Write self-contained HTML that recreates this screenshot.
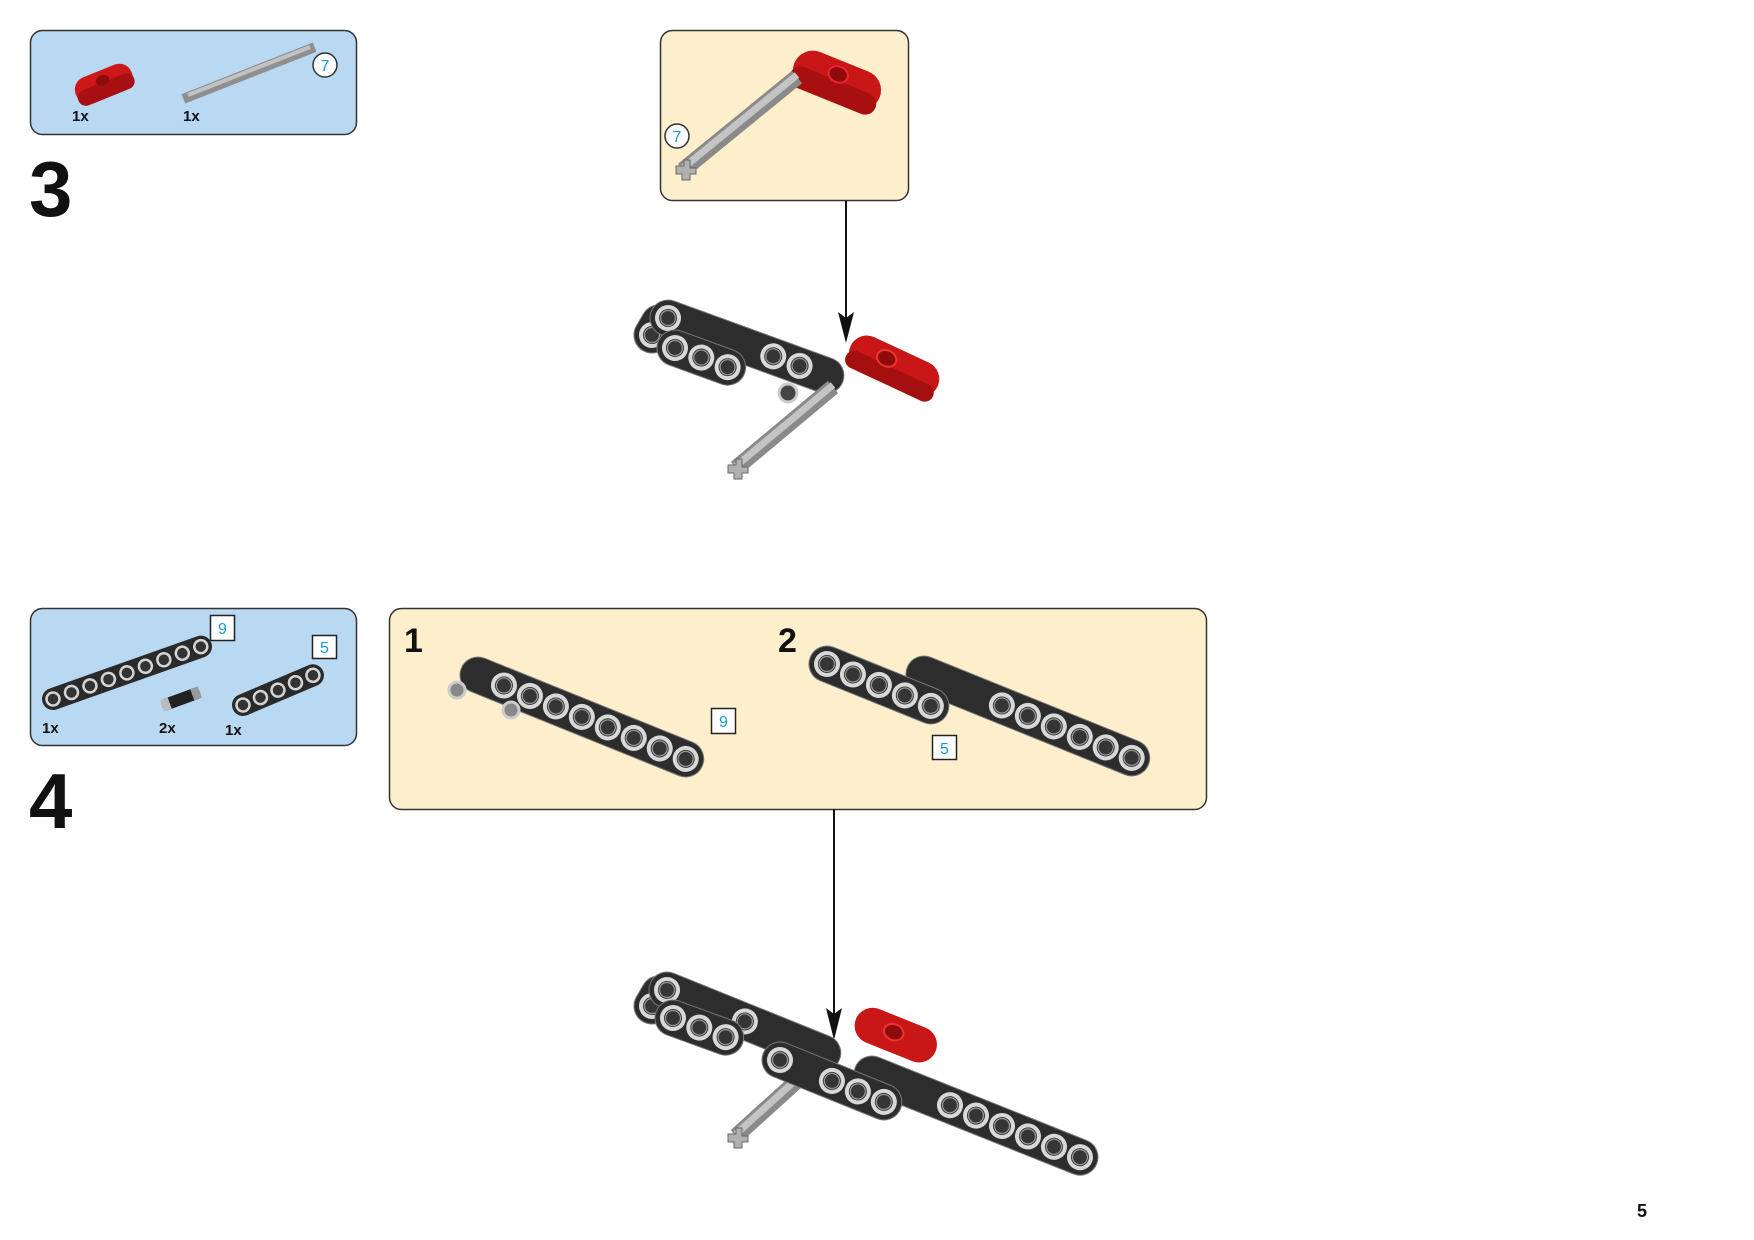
<!DOCTYPE html>
<html><head><meta charset="utf-8"><style>
html,body{margin:0;padding:0;background:#fff;}
body{width:1754px;height:1240px;position:relative;overflow:hidden;font-family:"Liberation Sans",sans-serif;}
</style></head><body>
<svg width="1754" height="1240" viewBox="0 0 1754 1240" xmlns="http://www.w3.org/2000/svg" style="position:absolute;left:0;top:0">
<defs>
<g id="h"><circle r="11" fill="#353535" stroke="#d8d8d8" stroke-width="4"/><circle r="7.5" fill="none" stroke="#9a9a9a" stroke-width="1.2"/></g>
<g id="hs"><circle r="6.5" fill="#333" stroke="#d4d4d4" stroke-width="2.5"/></g>
</defs>
<g font-family="Liberation Sans, sans-serif" font-weight="bold">
<!-- STEP 3 -->
<rect x="30.5" y="30.5" width="326" height="104" rx="12" fill="#b9d8f2" stroke="#333" stroke-width="1.5"/>
<g transform="translate(104,84) rotate(-22)">
 <rect x="-30" y="-14" width="60" height="28" rx="13" fill="#cc1818"/>
 <rect x="-30" y="-2" width="60" height="16" rx="8" fill="#a80f12"/>
 <ellipse cx="0" cy="-4" rx="7" ry="5" fill="#8a0c0c"/>
</g>
<line x1="188" y1="97" x2="310" y2="49" stroke="#8f8f8f" stroke-width="10" stroke-linecap="square"/>
<line x1="188" y1="95" x2="310" y2="47" stroke="#c2c2c2" stroke-width="4"/>
<circle cx="325" cy="65" r="12" fill="#fff" stroke="#333" stroke-width="1.5"/>
<text x="325" y="71" font-size="16" font-weight="normal" fill="#1a9ad6" text-anchor="middle">7</text>
<text x="72" y="121" font-size="15" fill="#111">1x</text>
<text x="183" y="121" font-size="15" fill="#111">1x</text>
<text x="29" y="216" font-size="78" fill="#111">3</text>

<rect x="660.5" y="30.5" width="248" height="170" rx="12" fill="#fdefcc" stroke="#333" stroke-width="1.5"/>
<g transform="translate(836,80) rotate(22)">
 <rect x="-45" y="-20" width="92" height="40" rx="20" fill="#c91616"/>
 <rect x="-45" y="0" width="92" height="22" rx="11" fill="#a70f10"/>
 <ellipse cx="0" cy="-6" rx="10" ry="8" fill="#8d0b0b" stroke="#e23" stroke-width="2"/>
</g>
<line x1="797" y1="77" x2="683" y2="170" stroke="#8a8a8a" stroke-width="16"/>
<line x1="797" y1="75" x2="683" y2="168" stroke="#c4c4c4" stroke-width="7"/>
<path d="M676 166 h8 v-6 h6 v8 h6 v6 h-6 v6 h-8 v-6 h-6z" fill="#b0b0b0" stroke="#666"/>
<circle cx="677" cy="136" r="12" fill="#fff" stroke="#333" stroke-width="1.5"/>
<text x="677" y="142" font-size="16" font-weight="normal" fill="#1a9ad6" text-anchor="middle">7</text>

<line x1="846" y1="201" x2="846" y2="320" stroke="#111" stroke-width="2"/>
<path d="M838 312 L846 343 L854 312 L846 318 Z" fill="#111"/>

<!-- step 3 assembly -->
<g transform="translate(652,335) rotate(-60)"><rect x="-18" y="-18" width="50" height="36" rx="18" fill="#2d2d2d" stroke="#777"/><use href="#h"/></g>
<g transform="translate(885,362) rotate(25)">
 <rect x="-38" y="-18" width="96" height="36" rx="18" fill="#c91616"/>
 <rect x="-38" y="2" width="96" height="18" rx="9" fill="#a50f10"/>
 <ellipse cx="0" cy="-4" rx="10" ry="8" fill="#8d0b0b" stroke="#e33" stroke-width="2"/>
</g>
<g transform="translate(668,318) rotate(20)"><rect x="-18" y="-18" width="204" height="36" rx="18" fill="#2d2d2d" stroke="#777"/><use href="#h"/><use href="#h" x="112"/><use href="#h" x="140"/></g>
<circle cx="788" cy="393" r="9" fill="#444" stroke="#ccc" stroke-width="3"/>
<g transform="translate(675,348) rotate(20)"><rect x="-18" y="-18" width="92" height="36" rx="18" fill="#2d2d2d" stroke="#777"/><use href="#h"/><use href="#h" x="28"/><use href="#h" x="56"/></g>
<line x1="833" y1="387" x2="736" y2="468" stroke="#8a8a8a" stroke-width="16"/>
<line x1="833" y1="385" x2="736" y2="466" stroke="#c4c4c4" stroke-width="7"/>
<path d="M728 465 h8 v-6 h6 v8 h6 v6 h-6 v6 h-8 v-6 h-6z" fill="#b0b0b0" stroke="#666"/>

<!-- STEP 4 -->
<rect x="30.5" y="608.5" width="326" height="137" rx="12" fill="#b9d8f2" stroke="#333" stroke-width="1.5"/>
<g transform="translate(53,699) rotate(-19.5)"><rect x="-11" y="-11" width="179" height="22" rx="11" fill="#2a2a2a"/>
<use href="#hs"/><use href="#hs" x="19.6"/><use href="#hs" x="39.2"/><use href="#hs" x="58.8"/><use href="#hs" x="78.4"/><use href="#hs" x="98"/><use href="#hs" x="117.6"/><use href="#hs" x="137.2"/><use href="#hs" x="156.8"/></g>
<g transform="translate(243,705) rotate(-23)"><rect x="-11" y="-11" width="98" height="22" rx="11" fill="#2a2a2a"/>
<use href="#hs"/><use href="#hs" x="19"/><use href="#hs" x="38"/><use href="#hs" x="57"/><use href="#hs" x="76"/></g>
<g transform="translate(181,699) rotate(-20)"><rect x="-20" y="-6" width="40" height="12" rx="4" fill="#222"/><rect x="-20" y="-6" width="8" height="12" fill="#bbb"/><rect x="12" y="-6" width="8" height="12" fill="#999"/></g>
<rect x="210.5" y="615.5" width="24" height="25" fill="#fff" stroke="#222" stroke-width="1.5"/>
<text x="222.5" y="634" font-size="16" font-weight="normal" fill="#1a9ad6" text-anchor="middle">9</text>
<rect x="312.5" y="635.5" width="24" height="23" fill="#fff" stroke="#222" stroke-width="1.5"/>
<text x="324.5" y="653" font-size="16" font-weight="normal" fill="#1a9ad6" text-anchor="middle">5</text>
<text x="42" y="733" font-size="15" fill="#111">1x</text>
<text x="159" y="733" font-size="15" fill="#111">2x</text>
<text x="225" y="735" font-size="15" fill="#111">1x</text>
<text x="29" y="828" font-size="78" fill="#111">4</text>

<rect x="389.5" y="608.5" width="817" height="201" rx="12" fill="#fdefcc" stroke="#333" stroke-width="1.5"/>
<text x="404" y="652" font-size="34" fill="#111">1</text>
<text x="778" y="652" font-size="34" fill="#111">2</text>
<!-- sub1 -->
<g transform="translate(478,675) rotate(22)"><rect x="-18" y="-18" width="260" height="36" rx="18" fill="#2d2d2d" stroke="#777"/>
<use href="#h" x="28"/><use href="#h" x="56"/><use href="#h" x="84"/><use href="#h" x="112"/><use href="#h" x="140"/><use href="#h" x="168"/><use href="#h" x="196"/><use href="#h" x="224"/></g>
<circle cx="457" cy="690" r="8" fill="#888" stroke="#ccc" stroke-width="3"/>
<circle cx="511" cy="710" r="8" fill="#888" stroke="#ccc" stroke-width="3"/>
<rect x="711.5" y="708.5" width="24" height="25" fill="#fff" stroke="#222" stroke-width="1.5"/>
<text x="723.5" y="727" font-size="16" font-weight="normal" fill="#1a9ad6" text-anchor="middle">9</text>
<!-- sub2 -->
<g transform="translate(924,674) rotate(22)"><rect x="-18" y="-18" width="260" height="36" rx="18" fill="#2d2d2d" stroke="#777"/>
<use href="#h" x="84"/><use href="#h" x="112"/><use href="#h" x="140"/><use href="#h" x="168"/><use href="#h" x="196"/><use href="#h" x="224"/></g>
<g transform="translate(827,664) rotate(22)"><rect x="-18" y="-18" width="148" height="36" rx="18" fill="#2d2d2d" stroke="#777"/>
<use href="#h"/><use href="#h" x="28"/><use href="#h" x="56"/><use href="#h" x="84"/><use href="#h" x="112"/></g>
<rect x="932.5" y="735.5" width="24" height="24" fill="#fff" stroke="#222" stroke-width="1.5"/>
<text x="944.5" y="754" font-size="16" font-weight="normal" fill="#1a9ad6" text-anchor="middle">5</text>

<line x1="834" y1="809" x2="834" y2="1015" stroke="#111" stroke-width="2"/>
<path d="M826 1008 L834 1040 L842 1008 L834 1014 Z" fill="#111"/>

<!-- final assembly -->
<g transform="translate(652,1006) rotate(-60)"><rect x="-18" y="-18" width="50" height="36" rx="18" fill="#2d2d2d" stroke="#777"/><use href="#h"/></g>
<g transform="translate(893,1034) rotate(22)">
 <rect x="-40" y="-18" width="86" height="36" rx="18" fill="#c91616"/>
 <ellipse cx="0" cy="-2" rx="10" ry="8" fill="#8d0b0b" stroke="#e33" stroke-width="2"/>
</g>
<g transform="translate(667,990) rotate(22)"><rect x="-18" y="-18" width="204" height="36" rx="18" fill="#2d2d2d" stroke="#777"/><use href="#h"/><use href="#h" x="84"/></g>
<g transform="translate(872,1074) rotate(21.8)"><rect x="-18" y="-18" width="260" height="36" rx="18" fill="#2d2d2d" stroke="#777"/>
<use href="#h" x="84"/><use href="#h" x="112"/><use href="#h" x="140"/><use href="#h" x="168"/><use href="#h" x="196"/><use href="#h" x="224"/></g>
<g transform="translate(673,1018) rotate(20)"><rect x="-18" y="-18" width="92" height="36" rx="18" fill="#2d2d2d" stroke="#777"/><use href="#h"/><use href="#h" x="28"/><use href="#h" x="56"/></g>
<line x1="809" y1="1070" x2="736" y2="1136" stroke="#8a8a8a" stroke-width="16"/>
<line x1="809" y1="1068" x2="736" y2="1134" stroke="#c4c4c4" stroke-width="7"/>
<path d="M728 1134 h8 v-6 h6 v8 h6 v6 h-6 v6 h-8 v-6 h-6z" fill="#b0b0b0" stroke="#666"/>
<g transform="translate(780,1060) rotate(22)"><rect x="-18" y="-18" width="148" height="36" rx="18" fill="#2d2d2d" stroke="#777"/>
<use href="#h"/><use href="#h" x="56"/><use href="#h" x="84"/><use href="#h" x="112"/></g>

<text x="1637" y="1217" font-size="18" fill="#111">5</text>
</g>
</svg>
</body></html>
